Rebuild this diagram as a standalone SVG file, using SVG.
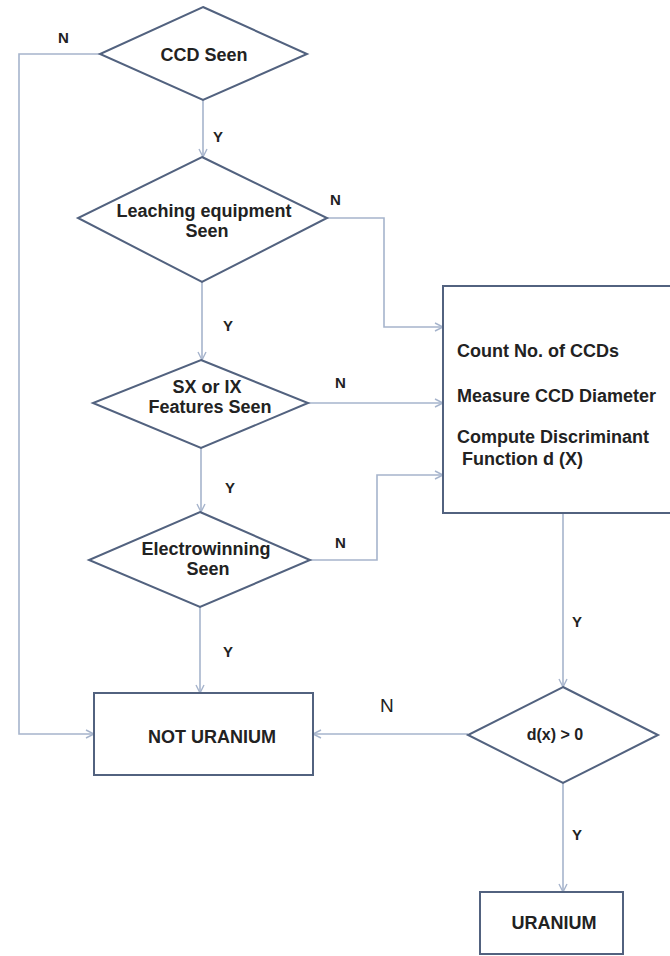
<svg xmlns="http://www.w3.org/2000/svg" width="670" height="956" viewBox="0 0 670 956">
<style>
.node{fill:#ffffff;stroke:#52627f;stroke-width:2}
.conn{fill:none;stroke:#a6b4cc;stroke-width:1.6}
.t{font-family:"Liberation Sans",Arial,sans-serif;font-weight:bold;font-size:18px;fill:#222}
.lbl{font-family:"Liberation Sans",Arial,sans-serif;font-weight:bold;font-size:15px;fill:#222}
.lbln{font-family:"Liberation Sans",Arial,sans-serif;font-size:19px;fill:#222}
</style>
<defs>
<marker id="arr" markerWidth="12" markerHeight="12" refX="10" refY="6" orient="auto" markerUnits="userSpaceOnUse">
<path d="M2,2 L10,6 L2,10" fill="none" stroke="#a6b4cc" stroke-width="1.4"/>
</marker>
</defs>
<rect width="670" height="956" fill="#ffffff"/>
<g id="connectors">
<polyline class="conn" points="100,54 19,54 19,734 94,734" marker-end="url(#arr)"/>
<line class="conn" x1="203" y1="100" x2="203" y2="157" marker-end="url(#arr)"/>
<polyline class="conn" points="327,218 384,218 384,327 443,327" marker-end="url(#arr)"/>
<line class="conn" x1="202" y1="282" x2="202" y2="360" marker-end="url(#arr)"/>
<line class="conn" x1="308" y1="403" x2="443" y2="403" marker-end="url(#arr)"/>
<line class="conn" x1="201" y1="448" x2="201" y2="512" marker-end="url(#arr)"/>
<polyline class="conn" points="310,560 377,560 377,475 443,475" marker-end="url(#arr)"/>
<line class="conn" x1="200" y1="607" x2="200" y2="693" marker-end="url(#arr)"/>
<line class="conn" x1="563" y1="513" x2="563" y2="687" marker-end="url(#arr)"/>
<line class="conn" x1="468" y1="734" x2="313" y2="734" marker-end="url(#arr)"/>
<line class="conn" x1="563" y1="783" x2="563" y2="892" marker-end="url(#arr)"/>
<text class="lbl" x="58" y="43">N</text>
<text class="lbl" x="213" y="142">Y</text>
<text class="lbl" x="330" y="205">N</text>
<text class="lbl" x="223" y="331">Y</text>
<text class="lbl" x="335" y="388">N</text>
<text class="lbl" x="225" y="493">Y</text>
<text class="lbl" x="335" y="548">N</text>
<text class="lbl" x="223" y="657">Y</text>
<text class="lbl" x="572" y="627">Y</text>
<text class="lbln" x="380" y="712">N</text>
<text class="lbl" x="572" y="840">Y</text>
</g>
<g id="ccd-seen">
<polygon class="node" points="203,7 307,54 203,100 100,54"/>
<text class="t" x="204" y="61" text-anchor="middle">CCD Seen</text>
</g>
<g id="leaching">
<polygon class="node" points="202,157 327,218 202,282 78,218"/>
<text class="t" x="204" y="217" text-anchor="middle">Leaching equipment</text>
<text class="t" x="207" y="237" text-anchor="middle">Seen</text>
</g>
<g id="sx-ix">
<polygon class="node" points="201,360 308,403 201,448 93,403"/>
<text class="t" x="207" y="393" text-anchor="middle">SX or IX</text>
<text class="t" x="210" y="413" text-anchor="middle">Features Seen</text>
</g>
<g id="electrowinning">
<polygon class="node" points="200,512 310,560 200,607 89,560"/>
<text class="t" x="206" y="555" text-anchor="middle">Electrowinning</text>
<text class="t" x="208" y="575" text-anchor="middle">Seen</text>
</g>
<g id="process">
<rect class="node" x="443" y="286" width="230" height="227"/>
<text class="t" x="457" y="357">Count No. of CCDs</text>
<text class="t" x="457" y="402">Measure CCD Diameter</text>
<text class="t" x="457" y="443">Compute Discriminant</text>
<text class="t" x="462" y="465">Function d (X)</text>
</g>
<g id="not-uranium">
<rect class="node" x="94" y="693" width="219" height="82"/>
<text class="t" x="212" y="743" text-anchor="middle">NOT URANIUM</text>
</g>
<g id="dx">
<polygon class="node" points="563,687 658,735 563,783 468,735"/>
<text class="t" x="555" y="740" text-anchor="middle" style="font-size:16px">d(x) &gt; 0</text>
</g>
<g id="uranium">
<rect class="node" x="480" y="892" width="143" height="62"/>
<text class="t" x="554" y="929" text-anchor="middle">URANIUM</text>
</g>
</svg>
